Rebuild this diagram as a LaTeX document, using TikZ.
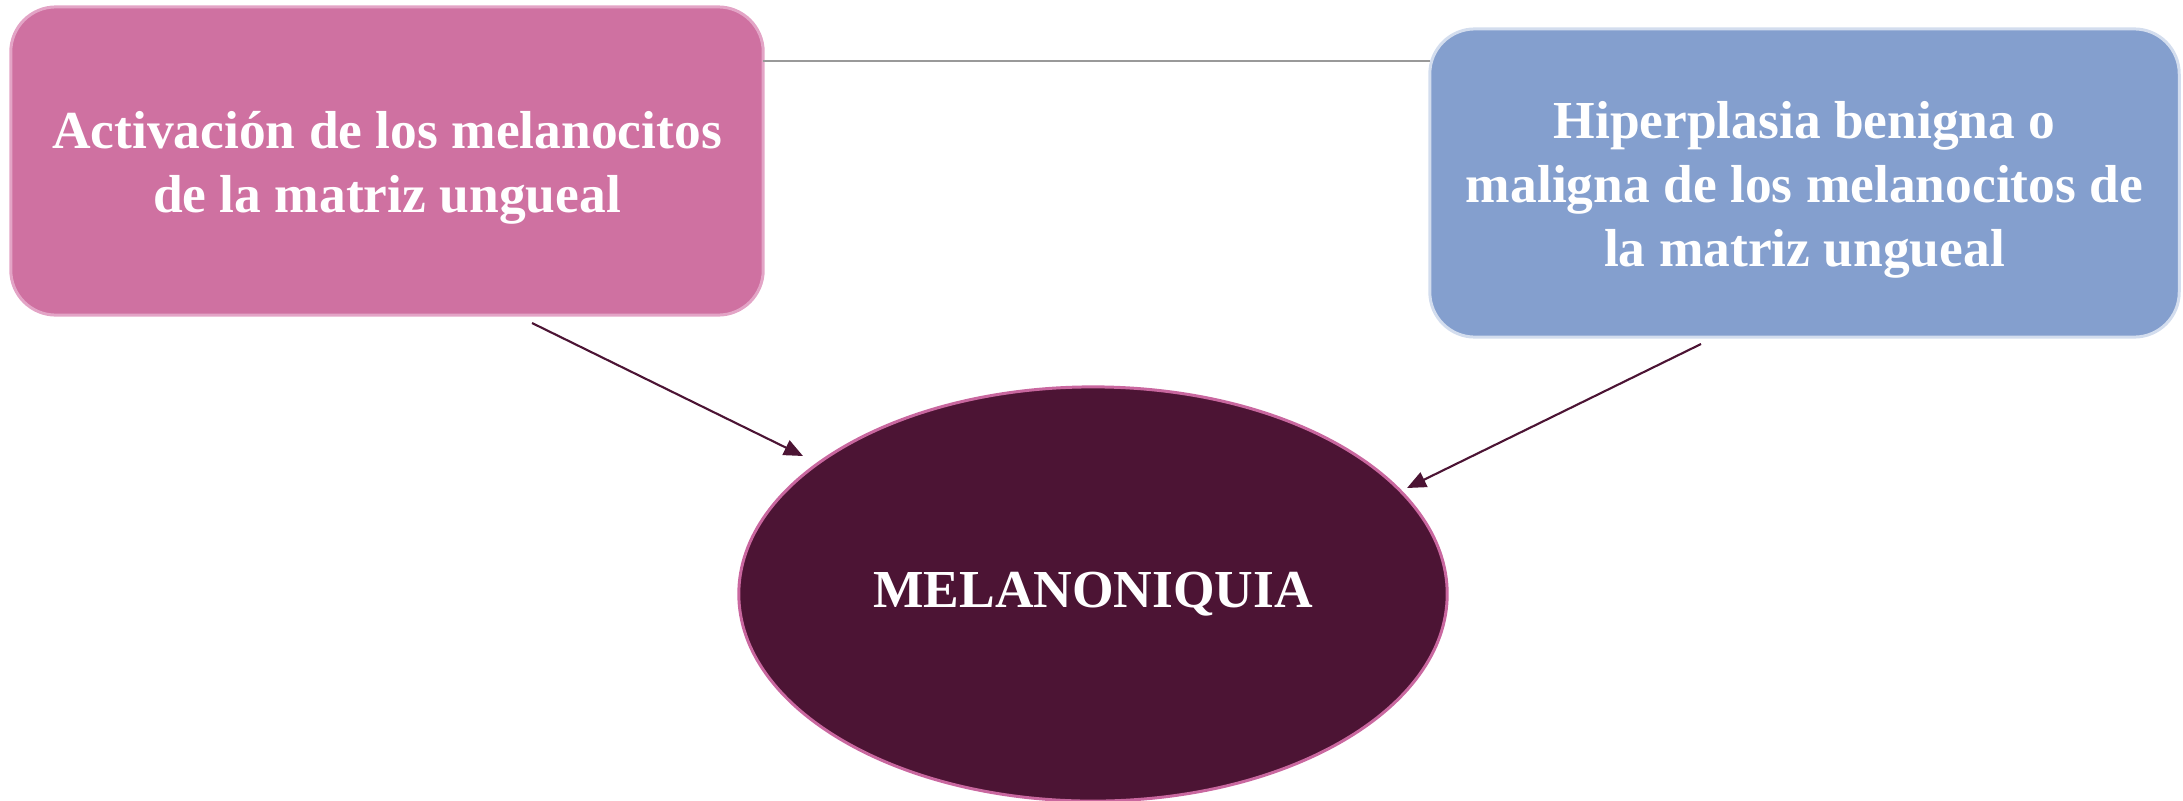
\documentclass[tikz,border=0pt]{standalone}
\usepackage{fontspec}
\setmainfont{Liberation Serif}
\usetikzlibrary{shapes.geometric,arrows.meta}
\definecolor{pinkfill}{HTML}{CF71A1}
\definecolor{pinkline}{HTML}{E3A4C6}
\definecolor{bluefill}{HTML}{849FCE}
\definecolor{blueline}{HTML}{D3DDEE}
\definecolor{plum}{HTML}{4C1434}
\definecolor{plumline}{HTML}{C9679F}
\definecolor{greyline}{HTML}{999999}
\tikzset{
  boxtext/.style={font=\bfseries\fontsize{15.2pt}{18.2pt}\selectfont, text=white, align=center},
  roundbox/.style={rectangle, rounded corners=0.45cm, line width=0.85pt, inner sep=0pt},
  arrowline/.style={draw=plum, line width=0.6pt, -{Triangle[length=1.9mm,width=1.6mm]}},
}
\begin{document}
\begin{tikzpicture}[x=0.01cm,y=-0.01cm]
\useasboundingbox (0,0) rectangle (2183,800);
\node[roundbox, fill=pinkfill, draw=pinkline, minimum width=7.52cm, minimum height=3.08cm] (lbox) at (387,161) {};
\node[boxtext] (ltext) at (387,168) {Activación de los melanocitos\\de la matriz ungueal};
\node[roundbox, fill=bluefill, draw=blueline, minimum width=7.49cm, minimum height=3.08cm] (rbox) at (1804.5,183) {};
\node[boxtext] (rtext) at (1804.5,190) {Hiperplasia benigna o\\maligna de los melanocitos de\\la matriz ungueal};
\node[ellipse, fill=plum, draw=plumline, line width=0.85pt, minimum width=7.08cm, minimum height=4.14cm, inner sep=0pt, boxtext] (mel) at (1093,594) {MELANONIQUIA};
\coordinate (ls) at (763,61);
\coordinate (le) at (1430,61);
\draw[greyline, line width=0.6pt] (ls) -- (le);
\coordinate (a1s) at (532,323);
\coordinate (a1e) at (803,456);
\coordinate (a2s) at (1701,344);
\coordinate (a2e) at (1407,488);
\draw[arrowline] (a1s) -- (a1e);
\draw[arrowline] (a2s) -- (a2e);
\end{tikzpicture}
\end{document}
